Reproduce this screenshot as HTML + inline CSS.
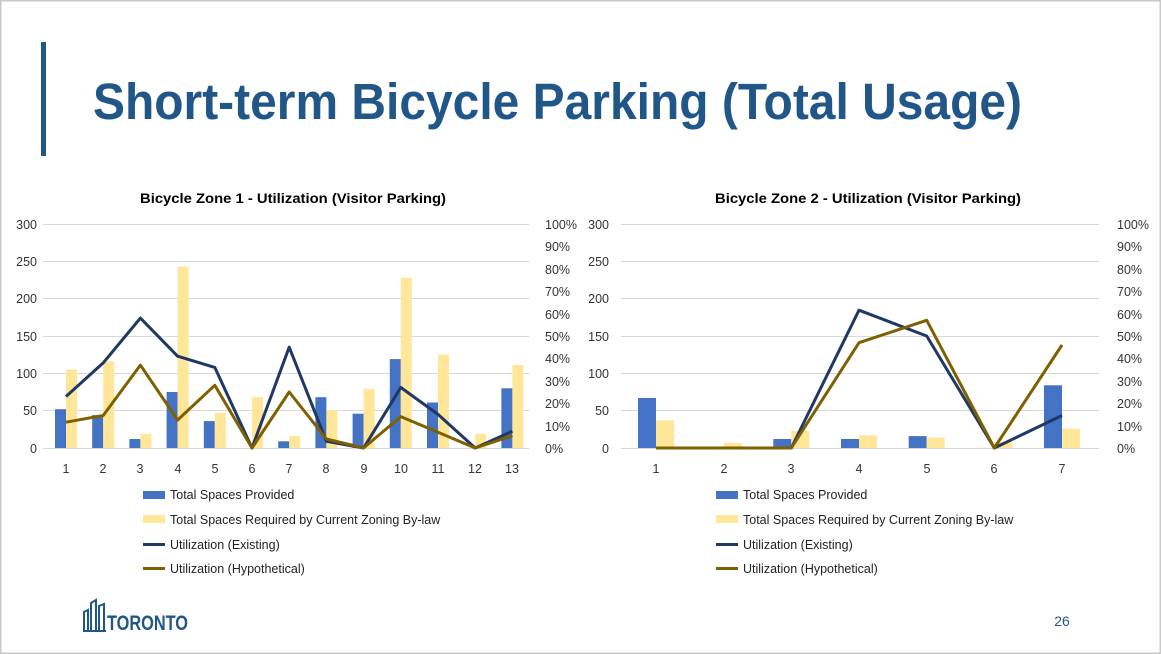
<!DOCTYPE html>
<html><head><meta charset="utf-8"><style>
html,body{margin:0;padding:0;background:#fff}
svg{display:block}
text{font-family:"Liberation Sans",Arial,sans-serif}
</style></head><body>
<svg width="1161" height="654" viewBox="0 0 1161 654" xmlns="http://www.w3.org/2000/svg">
<rect x="0" y="0" width="1161" height="654" fill="#fff"/>
<rect x="0.5" y="0.5" width="1160" height="653" fill="none" stroke="#c8c8c8" stroke-width="2"/>
<rect x="41" y="42" width="5" height="114" fill="#215688"/>
<text x="93" y="119" font-size="51" font-weight="bold" fill="#215688" textLength="929" lengthAdjust="spacingAndGlyphs">Short-term Bicycle Parking (Total Usage)</text>

<g font-size="14" font-weight="bold" fill="#000" text-anchor="middle">
<text x="293" y="203" textLength="306" lengthAdjust="spacingAndGlyphs">Bicycle Zone 1 - Utilization (Visitor Parking)</text>
<text x="868" y="203" textLength="306" lengthAdjust="spacingAndGlyphs">Bicycle Zone 2 - Utilization (Visitor Parking)</text>
</g>

<g stroke="#d9d9d9" stroke-width="1">
<line x1="43" x2="529" y1="224.5" y2="224.5"/><line x1="43" x2="529" y1="261.5" y2="261.5"/><line x1="43" x2="529" y1="298.5" y2="298.5"/><line x1="43" x2="529" y1="336.5" y2="336.5"/><line x1="43" x2="529" y1="373.5" y2="373.5"/><line x1="43" x2="529" y1="410.5" y2="410.5"/><line x1="43" x2="529" y1="448.5" y2="448.5"/>
<line x1="621" x2="1099" y1="224.5" y2="224.5"/><line x1="621" x2="1099" y1="261.5" y2="261.5"/><line x1="621" x2="1099" y1="298.5" y2="298.5"/><line x1="621" x2="1099" y1="336.5" y2="336.5"/><line x1="621" x2="1099" y1="373.5" y2="373.5"/><line x1="621" x2="1099" y1="410.5" y2="410.5"/><line x1="621" x2="1099" y1="448.5" y2="448.5"/>
</g>

<g font-size="12.5" fill="#333" text-anchor="end">
<text x="37" y="229">300</text><text x="37" y="266">250</text><text x="37" y="303">200</text><text x="37" y="341">150</text><text x="37" y="378">100</text><text x="37" y="415">50</text><text x="37" y="453">0</text>
<text x="609" y="229">300</text><text x="609" y="266">250</text><text x="609" y="303">200</text><text x="609" y="341">150</text><text x="609" y="378">100</text><text x="609" y="415">50</text><text x="609" y="453">0</text>
</g>
<g font-size="12.5" fill="#333">
<text x="545" y="229">100%</text><text x="545" y="251">90%</text><text x="545" y="274">80%</text><text x="545" y="296">70%</text><text x="545" y="319">60%</text><text x="545" y="341">50%</text><text x="545" y="363">40%</text><text x="545" y="386">30%</text><text x="545" y="408">20%</text><text x="545" y="431">10%</text><text x="545" y="453">0%</text>
<text x="1117" y="229">100%</text><text x="1117" y="251">90%</text><text x="1117" y="274">80%</text><text x="1117" y="296">70%</text><text x="1117" y="319">60%</text><text x="1117" y="341">50%</text><text x="1117" y="363">40%</text><text x="1117" y="386">30%</text><text x="1117" y="408">20%</text><text x="1117" y="431">10%</text><text x="1117" y="453">0%</text>
</g>
<g font-size="12.5" fill="#333" text-anchor="middle">
<text x="66" y="473">1</text><text x="103" y="473">2</text><text x="140" y="473">3</text><text x="178" y="473">4</text><text x="215" y="473">5</text><text x="252" y="473">6</text><text x="289" y="473">7</text><text x="326" y="473">8</text><text x="364" y="473">9</text><text x="401" y="473">10</text><text x="438" y="473">11</text><text x="475" y="473">12</text><text x="512" y="473">13</text>
<text x="656" y="473">1</text><text x="724" y="473">2</text><text x="791" y="473">3</text><text x="859" y="473">4</text><text x="927" y="473">5</text><text x="994" y="473">6</text><text x="1062" y="473">7</text>
</g>

<g fill="#4472c4">
<rect x="55" y="409.2" width="11" height="38.8"/><rect x="92.2" y="415.1" width="11" height="32.9"/><rect x="129.4" y="439" width="11" height="9"/><rect x="166.6" y="392" width="11" height="56"/><rect x="203.8" y="421.1" width="11" height="26.9"/><rect x="278.2" y="441.3" width="11" height="6.7"/><rect x="315.4" y="397.2" width="11" height="50.8"/><rect x="352.6" y="413.7" width="11" height="34.3"/><rect x="389.8" y="359.1" width="11" height="88.9"/><rect x="427" y="402.5" width="11" height="45.5"/><rect x="501.4" y="388.3" width="11" height="59.7"/>
</g>
<g fill="#ffe699">
<rect x="66" y="369.6" width="11" height="78.4"/><rect x="103.2" y="361.4" width="11" height="86.6"/><rect x="140.4" y="433.8" width="11" height="14.2"/><rect x="177.6" y="266.6" width="11" height="181.4"/><rect x="214.8" y="412.9" width="11" height="35.1"/><rect x="252" y="397.2" width="11" height="50.8"/><rect x="289.2" y="436.1" width="11" height="11.9"/><rect x="326.4" y="409.9" width="11" height="38.1"/><rect x="363.6" y="389" width="11" height="59"/><rect x="400.8" y="277.8" width="11" height="170.2"/><rect x="438" y="354.7" width="11" height="93.3"/><rect x="475.2" y="433.8" width="11" height="14.2"/><rect x="512.4" y="365.1" width="11" height="82.9"/>
</g>
<polyline fill="none" stroke="#1f3864" stroke-width="3" stroke-linejoin="round" points="66,396.5 103.2,362.9 140.4,318.1 177.6,356.2 214.8,367.4 252,448 289.2,347.2 326.4,441.3 363.6,448 400.8,387.5 438,414.4 475.2,448 512.4,431.2"/>
<polyline fill="none" stroke="#7f6000" stroke-width="3" stroke-linejoin="round" points="66,422.2 103.2,415.5 140.4,365.1 177.6,420 214.8,385.3 252,448 289.2,392 326.4,439 363.6,448 400.8,416.6 438,432.3 475.2,448 512.4,435.7"/>

<g fill="#4472c4">
<rect x="638" y="398" width="18" height="50"/><rect x="773.3" y="439" width="18" height="9"/><rect x="841" y="439" width="18" height="9"/><rect x="908.7" y="436.1" width="18" height="11.9"/><rect x="1044" y="385.3" width="18" height="62.7"/>
</g>
<g fill="#ffe699">
<rect x="656" y="420.4" width="18" height="27.6"/><rect x="723.7" y="442.8" width="18" height="5.2"/><rect x="791.3" y="430.8" width="18" height="17.2"/><rect x="859" y="435.3" width="18" height="12.7"/><rect x="926.7" y="437.5" width="18" height="10.5"/><rect x="994.3" y="442" width="18" height="6"/><rect x="1062" y="428.6" width="18" height="19.4"/>
</g>
<polyline fill="none" stroke="#1f3864" stroke-width="3" stroke-linejoin="round" points="656,448 723.7,448 791.3,448 859,310.2 926.7,336 994.3,448 1062,415.5"/>
<polyline fill="none" stroke="#7f6000" stroke-width="3" stroke-linejoin="round" points="656,448 723.7,448 791.3,448 859,342.7 926.7,320.3 994.3,448 1062,345"/>

<g font-size="12.5" fill="#222">
<rect x="143" y="491" width="22" height="8" fill="#4472c4"/><text x="170" y="499">Total Spaces Provided</text>
<rect x="143" y="515" width="22" height="8" fill="#ffe699"/><text x="170" y="524">Total Spaces Required by Current Zoning By-law</text>
<rect x="143" y="543" width="22" height="3" fill="#1f3864"/><text x="170" y="549">Utilization (Existing)</text>
<rect x="143" y="567" width="22" height="3" fill="#7f6000"/><text x="170" y="573">Utilization (Hypothetical)</text>
<rect x="716" y="491" width="22" height="8" fill="#4472c4"/><text x="743" y="499">Total Spaces Provided</text>
<rect x="716" y="515" width="22" height="8" fill="#ffe699"/><text x="743" y="524">Total Spaces Required by Current Zoning By-law</text>
<rect x="716" y="543" width="22" height="3" fill="#1f3864"/><text x="743" y="549">Utilization (Existing)</text>
<rect x="716" y="567" width="22" height="3" fill="#7f6000"/><text x="743" y="573">Utilization (Hypothetical)</text>
</g>

<g fill="#215688" stroke="#215688">
<path d="M84,630 L84,612 L88,610 L88,630 M91,630 L91,603 L96,600 L96,630 M99,630 L99,606 L104,604 L104,630" fill="none" stroke-width="2"/>
<line x1="83" y1="631" x2="106" y2="631" stroke-width="2"/>
</g>
<text x="107" y="630" font-size="21" font-weight="bold" fill="#215688" stroke="none" textLength="81" lengthAdjust="spacingAndGlyphs">TORONTO</text>
<text x="1062" y="626" font-size="14" fill="#215688" text-anchor="middle">26</text>
</svg>
</body></html>
